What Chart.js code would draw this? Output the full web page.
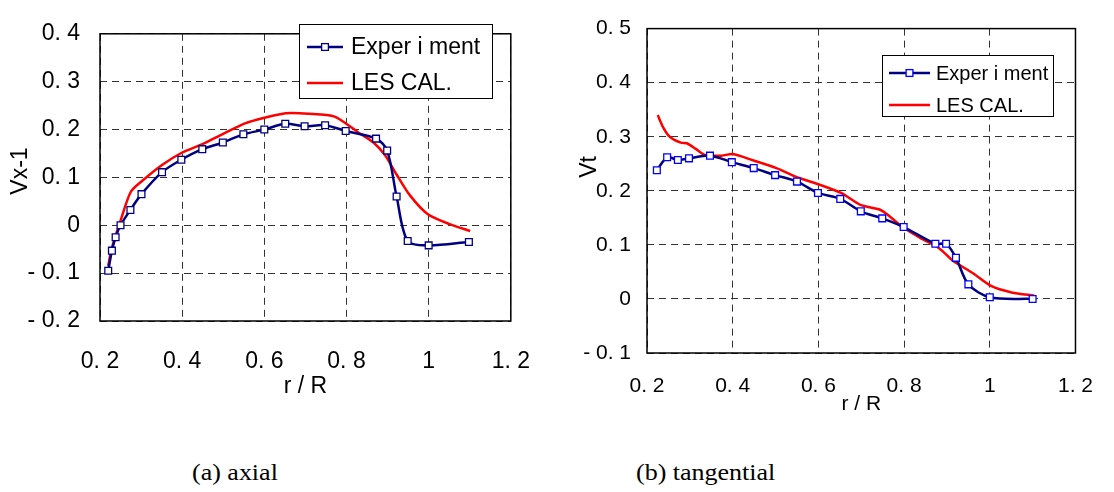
<!DOCTYPE html>
<html>
<head>
<meta charset="utf-8">
<script src="https://cdn.jsdelivr.net/npm/chart.js@4/dist/chart.umd.min.js"></script>
<style>
  body { margin: 0; background: #fff; width: 1114px; height: 492px; position: relative; overflow: hidden; }
  canvas { position: absolute; top: 0; }
  .cap { position: absolute; top: 461px; font-family: 'Liberation Serif', 'Times New Roman', serif; font-size: 23px; line-height: 23px; transform: scaleX(1.13); transform-origin: left top; white-space: nowrap; }
</style>
</head>
<body>
<canvas id="axial" width="557" height="440" style="left:0"></canvas>
<canvas id="tang" width="557" height="440" style="left:557px"></canvas>
<div class="cap" style="left:192px">(a) axial</div>
<div class="cap" style="left:636px">(b) tangential</div>
<script>
// data (r/R vs velocity)
const axialExpR = [0.220, 0.229, 0.238, 0.250, 0.274, 0.301, 0.351, 0.398, 0.449, 0.499, 0.549, 0.600, 0.651, 0.698, 0.748, 0.798, 0.872, 0.899, 0.922, 0.949, 1.000, 1.098];
const axialExpV = [-0.095, -0.053, -0.025, 0.000, 0.032, 0.065, 0.111, 0.137, 0.159, 0.173, 0.190, 0.200, 0.212, 0.207, 0.209, 0.197, 0.181, 0.156, 0.060, -0.033, -0.042, -0.035];
const axialLesR = [0.220, 0.228, 0.249, 0.275, 0.303, 0.351, 0.398, 0.448, 0.502, 0.553, 0.603, 0.652, 0.708, 0.771, 0.827, 0.867, 0.894, 0.922, 0.954, 0.998, 1.049, 1.101];
const axialLesV = [-0.085, -0.050, 0.007, 0.070, 0.093, 0.126, 0.151, 0.169, 0.192, 0.213, 0.225, 0.234, 0.233, 0.227, 0.195, 0.172, 0.146, 0.106, 0.063, 0.023, 0.003, -0.012];

const tangExpR = [0.223, 0.247, 0.272, 0.298, 0.347, 0.398, 0.449, 0.499, 0.550, 0.599, 0.651, 0.699, 0.749, 0.799, 0.873, 0.898, 0.921, 0.950, 1.000, 1.100];
const tangExpV = [0.238, 0.262, 0.257, 0.260, 0.265, 0.253, 0.242, 0.229, 0.217, 0.196, 0.185, 0.162, 0.149, 0.133, 0.102, 0.102, 0.076, 0.027, 0.003, 0.000];
const tangLesR = [0.225, 0.238, 0.253, 0.279, 0.293, 0.313, 0.336, 0.374, 0.400, 0.449, 0.502, 0.547, 0.593, 0.653, 0.698, 0.744, 0.766, 0.796, 0.842, 0.883, 0.915, 0.960, 1.003, 1.051, 1.104];
const tangLesV = [0.340, 0.317, 0.300, 0.289, 0.288, 0.278, 0.266, 0.265, 0.268, 0.256, 0.242, 0.226, 0.214, 0.196, 0.174, 0.165, 0.153, 0.133, 0.111, 0.093, 0.070, 0.048, 0.024, 0.012, 0.006];

const xTicksLabel = 'r / R';
const seriesNames = ['Exper i ment', 'LES CAL.'];

Chart.defaults.font.family = "'Liberation Sans', Arial, sans-serif";
Chart.defaults.color = '#000';

// "0. 4" / "- 0. 1" style numbers like the original
function fmt(v) {
  let s = String(Math.round(v * 10) / 10);
  return s.replace('-', '- ').replace('.', '. ');
}

function pts(xs, ys) { return xs.map((x, i) => ({ x: x, y: ys[i] })); }

// solid frame around plot area
const framePlugin = {
  id: 'frame',
  beforeDatasetsDraw(chart) {
    const a = chart.chartArea, ctx = chart.ctx;
    ctx.save();
    ctx.strokeStyle = '#000';
    ctx.lineWidth = 1.5;
    ctx.strokeRect(a.left, a.top, a.right - a.left, a.bottom - a.top);
    ctx.restore();
  }
};

// boxed legend + rotated y title
const boxLegend = {
  id: 'boxLegend',
  afterDraw(chart, args, o) {
    const ctx = chart.ctx;
    ctx.save();
    ctx.fillStyle = '#fff';
    ctx.fillRect(o.x, o.y, o.w, o.h);
    ctx.strokeStyle = '#000';
    ctx.lineWidth = 1;
    ctx.strokeRect(o.x + 0.5, o.y + 0.5, o.w, o.h);
    chart.data.datasets.forEach((ds, i) => {
      const y = o.rows[i];
      ctx.strokeStyle = ds.borderColor;
      ctx.lineWidth = ds.borderWidth;
      ctx.beginPath(); ctx.moveTo(o.x1, y); ctx.lineTo(o.x2, y); ctx.stroke();
      if (ds.pointRadius > 0) {
        ctx.fillStyle = ds.pointBackgroundColor;
        ctx.strokeStyle = ds.pointBorderColor;
        ctx.lineWidth = ds.pointBorderWidth;
        const s = ds.pointRadius * Math.SQRT1_2;
        ctx.fillRect((o.x1 + o.x2) / 2 - s, y - s, 2 * s, 2 * s);
        ctx.strokeRect((o.x1 + o.x2) / 2 - s, y - s, 2 * s, 2 * s);
      }
      ctx.fillStyle = '#000';
      ctx.font = o.size + "px 'Liberation Sans', Arial, sans-serif";
      ctx.textBaseline = 'middle';
      ctx.fillText(ds.label, o.tx, y + 1);
    });
    // y axis title
    ctx.translate(o.yt.x, o.yt.y);
    ctx.rotate(-Math.PI / 2);
    ctx.textAlign = 'center';
    ctx.textBaseline = 'middle';
    ctx.font = o.yt.size + "px 'Liberation Sans', Arial, sans-serif";
    ctx.fillText(o.yt.text, 0, 0);
    ctx.restore();
  }
};

function makeChart(id, expR, expV, lesR, lesV, s) {
  return new Chart(document.getElementById(id), {
    type: 'line',
    data: {
      datasets: [{
        label: seriesNames[0],
        data: pts(expR, expV),
        borderColor: '#000080', borderWidth: 2.5, tension: 0.3, order: 0,
        pointStyle: 'rect', pointRadius: 4.8, pointBorderWidth: 1.3,
        pointBackgroundColor: '#fff', pointBorderColor: s.marker
      }, {
        label: seriesNames[1],
        data: pts(lesR, lesV),
        borderColor: '#ff0000', borderWidth: 2.5, tension: 0.25, order: 1,
        pointRadius: 0
      }]
    },
    options: {
      responsive: false, animation: false,
      layout: { padding: { left: 0, top: s.top, right: s.right, bottom: 0 } },
      plugins: { legend: { display: false }, tooltip: { enabled: false }, boxLegend: s.legend },
      scales: {
        x: {
          type: 'linear', min: 0.2, max: 1.2,
          ticks: { stepSize: 0.2, padding: s.xPad, font: { size: s.font }, callback: fmt, maxRotation: 0 },
          grid: { color: '#333', drawTicks: false },
          border: { display: false, dash: [7, 5] },
          title: { display: true, text: xTicksLabel, font: { size: s.font }, padding: { top: 0, bottom: s.xTitlePad } },
          afterFit(sc) { sc.height = s.xH; }
        },
        y: {
          min: s.yMin, max: s.yMax,
          ticks: { stepSize: 0.1, padding: s.yPad, font: { size: s.font }, callback: fmt },
          grid: { color: '#333', drawTicks: false },
          border: { display: false, dash: [7, 5] },
          afterFit(sc) { sc.width = s.yW; }
        }
      }
    },
    plugins: [framePlugin, boxLegend]
  });
}

makeChart('axial', axialExpR, axialExpV, axialLesR, axialLesV, {
  marker: '#000080', top: 19, right: 37, yW: 100, xH: 119, yMin: -0.2, yMax: 0.4,
  font: 23, xPad: 27, yPad: 20, xTitlePad: 40,
  legend: { x: 299, y: 24, w: 193, h: 74, rows: [47, 83], x1: 307, x2: 343, tx: 351, size: 23,
    yt: { text: 'Vx-1', x: 21, y: 171, size: 23 } }
});
makeChart('tang', tangExpR, tangExpV, tangLesR, tangLesV, {
  marker: '#0000ff', top: 19, right: 26, yW: 90, xH: 87, yMin: -0.1, yMax: 0.5,
  font: 21, xPad: 21, yPad: 16, xTitlePad: 23,
  legend: { x: 325, y: 55, w: 171, h: 61, rows: [73, 105], x1: 332, x2: 373, tx: 379, size: 20,
    yt: { text: 'Vt', x: 33, y: 167, size: 23 } }
});
</script>
</body>
</html>
